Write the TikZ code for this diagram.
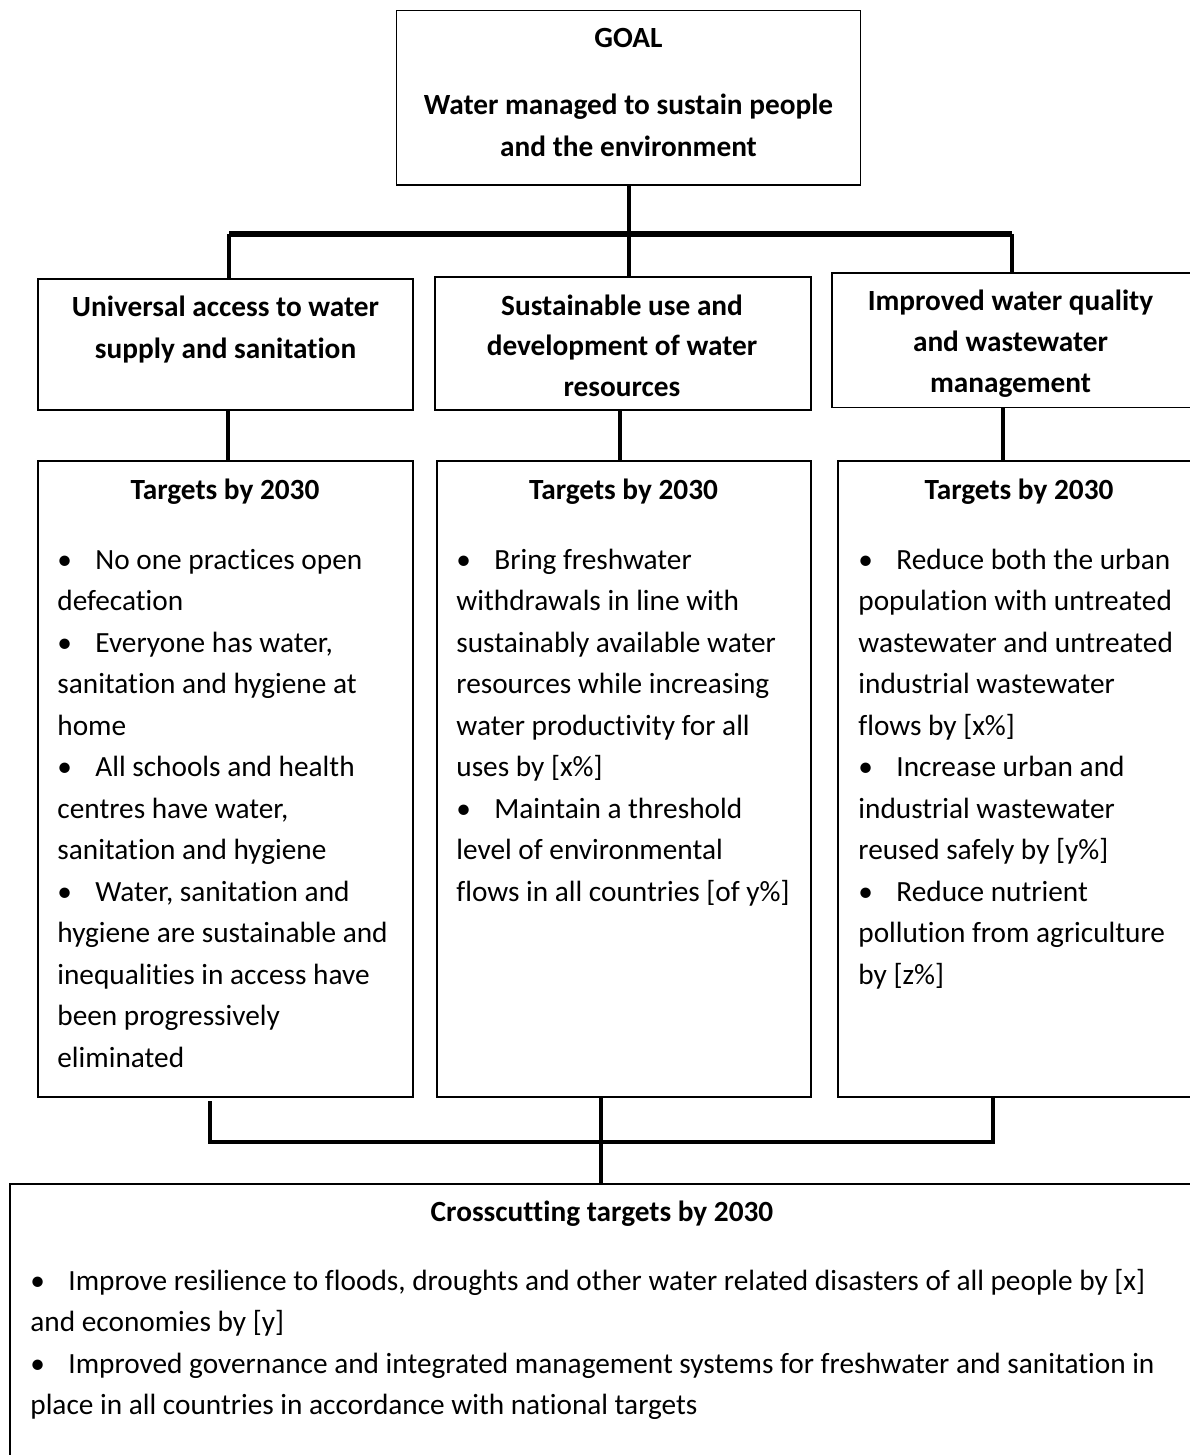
\documentclass[tikz,border=0pt]{standalone}
\usepackage{fontspec}
\setmainfont{Carlito}[Ligatures=NoCommon]
\usetikzlibrary{fit}
\newcommand\bodyfs{\fontsize{14.65pt}{20.75pt}\selectfont}
\newcommand\bul{\makebox[19pt][l]{\textbullet}}
\tikzset{
  box/.style={draw=black, line width=0.8pt, inner sep=0pt},
  conn/.style={draw=black, line width=2.1pt},
  bar/.style={draw=black, line width=2.6pt},
  txt/.style={anchor=base west, inner sep=0pt, font=\bodyfs},
  ttl/.style={anchor=base, inner sep=0pt, font=\bodyfs\bfseries},
}
\begin{document}
\begin{tikzpicture}[x=0.5pt,y=-0.5pt]
\useasboundingbox (0,0) rectangle (1189,1455);
\fill[white] (0,0) rectangle (1189,1455);

% boxes
\node[box, fit={(396.6,10.7)(860.6,185)}] (goal) {};
\node[box, fit={(38,278.7)(413,410)}] (sub1) {};
\node[box, fit={(435,276.7)(811,410)}] (sub2) {};
\node[box, fit={(832,272.7)(1200,407.3)}] (sub3) {};
\node[box, fit={(38,461)(413,1097)}] (tar1) {};
\node[box, fit={(436.8,461)(811,1097)}] (tar2) {};
\node[box, fit={(838,461)(1200,1097)}] (tar3) {};
\node[box, fit={(10,1184)(1200,1480)}] (cross) {};

% titles
\node[ttl] (goalT) at (628.5,47.5) {GOAL};
\node[ttl] (goalA) at (628.5,115) {Water managed to sustain people};
\node[ttl] (goalB) at (628.5,157) {and the environment};

\node[ttl] (s1a) at (225.5,316.7) {Universal access to water};
\node[ttl] (s1b) at (225.5,358.3) {supply and sanitation};
\node[ttl] (s2a) at (622,315) {Sustainable use and};
\node[ttl] (s2b) at (622,355.5) {development of water};
\node[ttl] (s2c) at (622,396.7) {resources};
\node[ttl] (s3a) at (1010.5,310) {Improved water quality};
\node[ttl] (s3b) at (1010.5,351) {and wastewater};
\node[ttl] (s3c) at (1010.5,392) {management};

\node[ttl] (t1) at (225,499) {Targets by 2030};
\node[ttl] (t2) at (623.5,499) {Targets by 2030};
\node[ttl] (t3) at (1019,499) {Targets by 2030};
\node[ttl] (ct) at (602,1221) {Crosscutting targets by 2030};

% column 1
\foreach \t [count=\i from 0] in {
  {\bul No one practices open},
  {defecation},
  {\bul Everyone has water,},
  {sanitation and hygiene at},
  {home},
  {\bul All schools and health},
  {centres have water,},
  {sanitation and hygiene},
  {\bul Water, sanitation and},
  {hygiene are sustainable and},
  {inequalities in access have},
  {been progressively},
  {eliminated}}
  \node[txt] (a\i) at (57,{569+41.5*\i}) {\t};

% column 2
\foreach \t [count=\i from 0] in {
  {\bul Bring freshwater},
  {withdrawals in line with},
  {sustainably available water},
  {resources while increasing},
  {water productivity for all},
  {uses by [x\%]},
  {\bul Maintain a threshold},
  {level of environmental},
  {flows in all countries [of y\%]}}
  \node[txt] (b\i) at (456,{569+41.5*\i}) {\t};

% column 3
\foreach \t [count=\i from 0] in {
  {\bul Reduce both the urban},
  {population with untreated},
  {wastewater and untreated},
  {industrial wastewater},
  {flows by [x\%]},
  {\bul Increase urban and},
  {industrial wastewater},
  {reused safely by [y\%]},
  {\bul Reduce nutrient},
  {pollution from agriculture},
  {by [z\%]}}
  \node[txt] (c\i) at (858,{569+41.5*\i}) {\t};

% crosscutting
\foreach \t [count=\i from 0] in {
  {\bul Improve resilience to floods, droughts and other water related disasters of all people by [x]},
  {and economies by [y]},
  {\bul Improved governance and integrated management systems for freshwater and sanitation in},
  {place in all countries in accordance with national targets}}
  \node[txt] (d\i) at (30,{1290+41.5*\i}) {\t};

% connector coordinates
\coordinate (tl) at (229,234);
\coordinate (tr) at (1012,234);
\coordinate (m1) at (228,0);
\coordinate (m2) at (620,0);
\coordinate (m3) at (1003,0);
\coordinate (bl) at (210,1142);
\coordinate (bm) at (601,1142);
\coordinate (br) at (993,1142);

% top connectors
\draw[conn] (goal.south) -- (goal.south |- sub2.north);
\draw[bar] (tl) -- (tr);
\draw[conn] (tl) -- (tl |- sub1.north);
\draw[conn] (tr) -- ([yshift=-1pt]tr |- sub3.north);

% middle connectors
\draw[conn] (sub1.south -| m1) -- (tar1.north -| m1);
\draw[conn] (sub2.south -| m2) -- (tar2.north -| m2);
\draw[conn] (sub3.south -| m3) -- (tar3.north -| m3);

% bottom connectors
\draw[conn, shorten <=1.8pt] (tar1.south -| bl) -- (bl) -- (br) -- (tar3.south -| br);
\draw[conn] (tar2.south -| bm) -- (cross.north -| bm);
\end{tikzpicture}
\end{document}
